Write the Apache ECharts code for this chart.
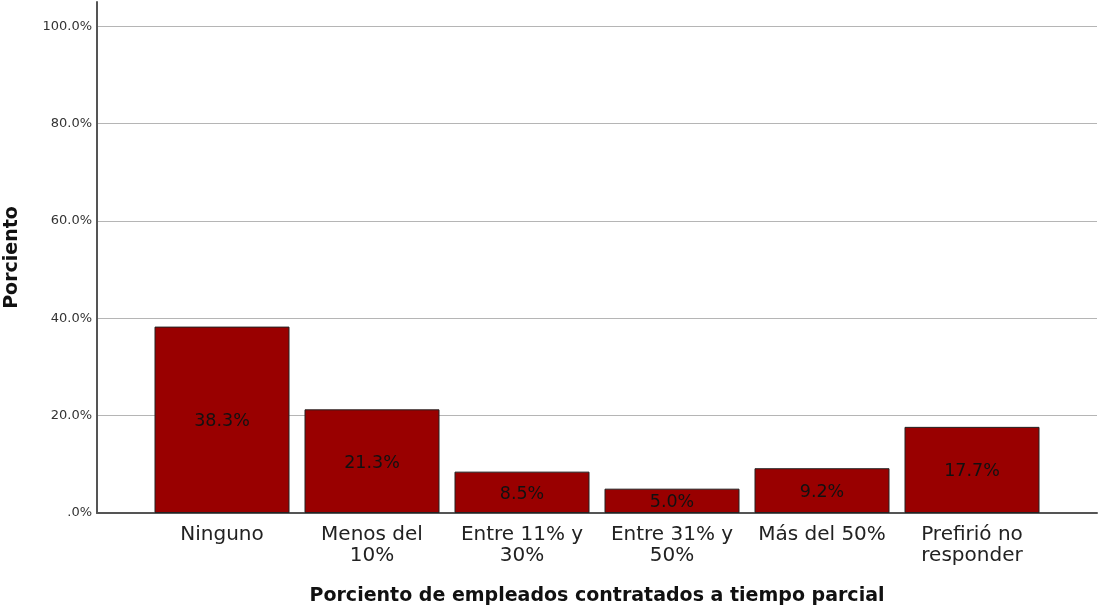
<!DOCTYPE html>
<html><head><meta charset="utf-8">
<script src="https://cdn.jsdelivr.net/npm/echarts@6/dist/echarts.min.js"></script>
<style>html,body{margin:0;padding:0;background:#fff}#c{width:1099px;height:608px}</style>
</head><body><div id="c"></div>
<script>
const categories = ["Ninguno", "Menos del\n10%", "Entre 11% y\n30%", "Entre 31% y\n50%", "Más del 50%", "Prefirió no\nresponder"];
const values = [38.3, 21.3, 8.5, 5.0, 9.2, 17.7];
const yTicks = [0, 20, 40, 60, 80, 100];

const font = "DejaVu Sans";
const chart = echarts.init(document.getElementById('c'));
chart.setOption({
  backgroundColor: '#fff',
  animation: false,
  grid: [
    {left: 97, right: 2, top: 2, bottom: 95, containLabel: false, outerBoundsMode: 'none'},
    {left: 147, right: 52, top: 2, bottom: 95, containLabel: false, outerBoundsMode: 'none'}
  ],
  xAxis: [
    {gridIndex: 0, type: 'value', min: 0, max: 1,
     axisLine: {show: true, lineStyle: {color: '#555', width: 2}},
     axisTick: {show: false}, axisLabel: {show: false}, splitLine: {show: false},
     name: 'Porciento de empleados contratados a tiempo parcial', nameLocation: 'middle', nameGap: 74,
     nameTextStyle: {fontFamily: font, fontSize: 19, fontWeight: 'bold', color: '#111'}},
    {gridIndex: 1, type: 'category', data: categories,
     axisLine: {show: false}, axisTick: {show: false},
     axisLabel: {fontFamily: font, fontSize: 20, color: '#222', lineHeight: 21, margin: 11, interval: 0}}
  ],
  yAxis: [
    {gridIndex: 0, type: 'value', min: 0, max: 105, interval: 20,
     axisLine: {show: true, lineStyle: {color: '#555', width: 2}},
     axisTick: {show: false},
     axisLabel: {showMaxLabel: false, fontFamily: font, fontSize: 13, color: '#333', margin: 5,
       formatter: v => yTicks.includes(v) ? (v === 0 ? '.0%' : v.toFixed(1) + '%') : ''},
     splitLine: {show: true, showMaxLine: false, lineStyle: {color: '#b5b5b5', width: 1}},
     name: 'Porciento', nameLocation: 'middle', nameGap: 75,
     nameTextStyle: {fontFamily: font, fontSize: 19, fontWeight: 'bold', color: '#111'}},
    {gridIndex: 1, type: 'value', min: 0, max: 105, interval: 20, show: false}
  ],
  series: [{
    type: 'bar', xAxisIndex: 1, yAxisIndex: 1, data: values,
    barCategoryGap: '10%',
    itemStyle: {color: '#990000', borderColor: '#222', borderWidth: 1},
    label: {show: true, position: 'inside', offset: [0, 2], fontFamily: font, fontSize: 17.5, color: '#111',
      formatter: p => p.value.toFixed(1) + '%'}
  }]
});
</script></body></html>
